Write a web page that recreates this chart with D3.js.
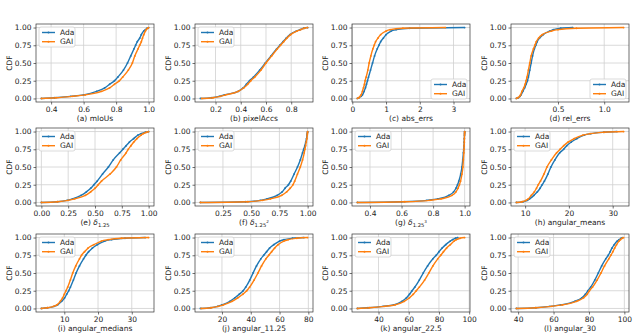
<!DOCTYPE html>
<html>
<head>
<meta charset="utf-8">
<script src="https://cdn.jsdelivr.net/npm/d3@7"></script>
<style>
body { margin: 0; background: #fff; }
text { font-family: "DejaVu Sans", sans-serif; }
</style>
</head>
<body>
<svg id="fig" width="640" height="335"></svg>
<script>
// CDF levels shared by every curve; each series lists the value reached at that level
const levels = [0, 0.01, 0.03, 0.05, 0.1, 0.15, 0.2, 0.25, 0.3, 0.4, 0.5, 0.6, 0.7, 0.75, 0.8, 0.85, 0.9, 0.95, 0.97, 0.99, 1];
const seriesNames = ["Ada", "GAI"];

const mIoUsAda = [0.34, 0.42, 0.52, 0.6, 0.68, 0.73, 0.76, 0.79, 0.81, 0.845, 0.87, 0.89, 0.91, 0.92, 0.93, 0.945, 0.955, 0.97, 0.98, 0.99, 1.0];
const mIoUsGAI = [0.34, 0.43, 0.53, 0.61, 0.71, 0.76, 0.79, 0.82, 0.84, 0.875, 0.9, 0.915, 0.935, 0.945, 0.955, 0.962, 0.97, 0.98, 0.985, 0.995, 1.0];
const pixelAccsAda = [0.08, 0.17, 0.23, 0.27, 0.38, 0.42, 0.445, 0.47, 0.5, 0.55, 0.595, 0.64, 0.685, 0.71, 0.735, 0.76, 0.79, 0.84, 0.87, 0.9, 0.93];
const pixelAccsGAI = [0.09, 0.18, 0.24, 0.28, 0.38, 0.425, 0.455, 0.48, 0.51, 0.56, 0.6, 0.645, 0.69, 0.715, 0.74, 0.765, 0.795, 0.845, 0.875, 0.905, 0.93];
const absErrsAda = [0.15, 0.2, 0.26, 0.3, 0.35, 0.39, 0.42, 0.45, 0.48, 0.54, 0.6, 0.66, 0.74, 0.79, 0.84, 0.92, 1.0, 1.15, 1.3, 1.7, 3.33];
const absErrsGAI = [0.15, 0.19, 0.23, 0.26, 0.3, 0.33, 0.36, 0.38, 0.41, 0.46, 0.5, 0.55, 0.61, 0.65, 0.69, 0.76, 0.84, 1.0, 1.12, 1.5, 2.76];
const relErrsAda = [0.05, 0.07, 0.09, 0.1, 0.12, 0.14, 0.155, 0.17, 0.18, 0.195, 0.21, 0.225, 0.245, 0.26, 0.275, 0.3, 0.34, 0.41, 0.45, 0.53, 0.66];
const relErrsGAI = [0.05, 0.065, 0.085, 0.095, 0.11, 0.13, 0.145, 0.155, 0.165, 0.18, 0.195, 0.21, 0.235, 0.25, 0.265, 0.29, 0.33, 0.43, 0.5, 0.7, 1.21];
const delta1Ada = [0.0, 0.15, 0.24, 0.29, 0.37, 0.42, 0.46, 0.49, 0.52, 0.57, 0.625, 0.67, 0.73, 0.76, 0.79, 0.82, 0.86, 0.9, 0.93, 0.97, 1.0];
const delta1GAI = [0.0, 0.15, 0.25, 0.31, 0.41, 0.46, 0.5, 0.53, 0.56, 0.64, 0.7, 0.74, 0.79, 0.81, 0.835, 0.86, 0.89, 0.93, 0.95, 0.98, 1.0];
const delta2Ada = [0.05, 0.45, 0.58, 0.64, 0.73, 0.775, 0.8, 0.83, 0.85, 0.88, 0.91, 0.935, 0.955, 0.965, 0.975, 0.983, 0.99, 0.995, 0.997, 0.999, 1.0];
const delta2GAI = [0.05, 0.47, 0.6, 0.67, 0.77, 0.815, 0.845, 0.87, 0.885, 0.91, 0.935, 0.955, 0.97, 0.976, 0.982, 0.988, 0.993, 0.997, 0.998, 0.999, 1.0];
const delta3Ada = [0.32, 0.6, 0.76, 0.83, 0.9, 0.93, 0.945, 0.955, 0.963, 0.975, 0.983, 0.988, 0.992, 0.994, 0.996, 0.997, 0.998, 0.999, 0.9995, 0.9999, 1.0];
const delta3GAI = [0.32, 0.62, 0.78, 0.85, 0.92, 0.945, 0.958, 0.967, 0.974, 0.983, 0.989, 0.992, 0.995, 0.996, 0.997, 0.998, 0.9985, 0.9993, 0.9996, 0.9999, 1.0];
const angMeansAda = [8.0, 9.5, 10.5, 11.0, 12.0, 12.8, 13.4, 13.9, 14.4, 15.2, 15.9, 16.8, 17.9, 18.8, 19.5, 20.5, 21.8, 23.5, 25, 28, 31];
const angMeansGAI = [8.0, 9.3, 10.2, 10.7, 11.4, 12.1, 12.6, 13.0, 13.5, 14.3, 15.0, 16.0, 17.2, 18.0, 18.8, 19.8, 21.2, 23.2, 24.8, 28, 32.5];
const angMediansAda = [3.2, 5, 7, 8, 9.2, 10.1, 10.7, 11.3, 11.8, 12.7, 13.5, 14.5, 15.7, 16.4, 17.2, 18.3, 19.8, 22, 24, 28, 34];
const angMediansGAI = [3.2, 5, 6.8, 7.8, 8.8, 9.5, 10.0, 10.5, 11.0, 11.8, 12.5, 13.4, 14.5, 15.1, 16.0, 17.0, 18.8, 21, 23, 27, 35];
const ang1125Ada = [5, 12, 17, 20, 25.5, 29, 32, 34.7, 36.5, 39.3, 41.6, 44, 47, 49, 51, 53, 56, 60, 63, 69, 77];
const ang1125GAI = [5.5, 12.5, 17.5, 21, 27, 31, 34.5, 37.2, 39.2, 42.3, 45, 47.5, 50.5, 52.5, 54.5, 56.5, 59, 63, 66, 72, 79.5];
const ang225Ada = [26, 33, 43, 50, 55.5, 58.5, 60.5, 62.2, 64, 67, 69.6, 72.5, 76, 78.2, 80, 82, 84.5, 87.5, 89, 91, 92.5];
const ang225GAI = [26, 34, 44, 51, 57, 60.5, 63, 65, 67, 70.5, 73.3, 76, 79.2, 81.2, 83, 85, 87.5, 90, 91.5, 94, 97];
const ang30Ada = [39, 50, 58, 64, 72, 76, 78, 79.4, 81, 83.3, 85.3, 87.2, 89.5, 90.9, 92, 93, 94.3, 96, 97, 98.2, 99];
const ang30GAI = [39, 50, 59, 65, 73, 77, 79, 80.3, 82, 84.6, 86.8, 88.8, 91.2, 92.4, 93.5, 94.5, 95.6, 97, 97.8, 98.8, 99.6];

const xTicks = [
  [0.4, 0.6, 0.8, 1.0], [0.2, 0.4, 0.6, 0.8], [0, 1, 2, 3], [0.5, 1.0],
  [0, 0.25, 0.5, 0.75, 1.0], [0.25, 0.5, 0.75, 1.0], [0.4, 0.6, 0.8, 1.0], [10, 20, 30],
  [10, 20, 30], [20, 40, 60, 80], [40, 60, 80, 100], [40, 60, 80, 100]
];
const xFormats = [".1f", ".1f", "d", ".1f", ".2f", ".2f", ".1f", "d", "d", "d", "d", "d"];
const yTicks = [0, 0.25, 0.5, 0.75, 1.0];
// panel labels: [prefix, delta subscript, superscript]
const panelLabels = [
  ["(a) mIoUs"], ["(b) pixelAccs"], ["(c) abs_errs"], ["(d) rel_errs"],
  ["(e) ", "1.25", ""], ["(f) ", "1.25", "2"], ["(g) ", "1.25", "3"], ["(h) angular_means"],
  ["(i) angular_medians"], ["(j) angular_11.25"], ["(k) angular_22.5"], ["(l) angular_30"]
];
const adaSeries = [mIoUsAda, pixelAccsAda, absErrsAda, relErrsAda, delta1Ada, delta2Ada, delta3Ada, angMeansAda, angMediansAda, ang1125Ada, ang225Ada, ang30Ada];
const gaiSeries = [mIoUsGAI, pixelAccsGAI, absErrsGAI, relErrsGAI, delta1GAI, delta2GAI, delta3GAI, angMeansGAI, angMediansGAI, ang1125GAI, ang225GAI, ang30GAI];
const legendLowerRight = [false, false, true, true, false, false, false, false, false, false, false, false];

const colors = ["#1f77b4", "#ff7f0e"];
const colLeft = [36, 195, 352, 511];
const rowTop = [24, 128, 234];
const width = 118, height = 78;
const fontSize = 7.5;

let svg = d3.select("#fig");

for (let p = 0; p < 12; p++) {
  let left = colLeft[p % 4], top = rowTop[Math.floor(p / 4)];
  let g = svg.append("g").attr("transform", "translate(" + left + "," + top + ")");
  let curves = [adaSeries[p], gaiSeries[p]].map(s => s.map((v, i) => [v, levels[i]]));
  let ext = d3.extent(adaSeries[p].concat(gaiSeries[p]));
  let pad = (ext[1] - ext[0]) * 0.05;
  let x = d3.scaleLinear().domain([ext[0] - pad, ext[1] + pad]).range([0, width]);
  let y = d3.scaleLinear().domain([-0.05, 1.05]).range([height, 0]);

  // grid
  g.selectAll(".gx").data(xTicks[p]).enter().append("line")
    .attr("x1", d => x(d)).attr("x2", d => x(d)).attr("y1", 0).attr("y2", height)
    .attr("stroke", "#d0d0d0").attr("stroke-width", 0.8);
  g.selectAll(".gy").data(yTicks).enter().append("line")
    .attr("x1", 0).attr("x2", width).attr("y1", d => y(d)).attr("y2", d => y(d))
    .attr("stroke", "#d0d0d0").attr("stroke-width", 0.8);

  // axes
  let xa = g.append("g").attr("transform", "translate(0," + height + ")")
    .call(d3.axisBottom(x).tickValues(xTicks[p]).tickFormat(d3.format(xFormats[p])).tickSize(2.5).tickPadding(2));
  let ya = g.append("g")
    .call(d3.axisLeft(y).tickValues(yTicks).tickFormat(d3.format(".2f")).tickSize(2.5).tickPadding(2));
  [xa, ya].forEach(a => {
    a.select(".domain").remove();
    a.selectAll("line").attr("stroke", "#333").attr("stroke-width", 0.7);
    a.selectAll("text").attr("font-size", fontSize).attr("fill", "#222")
      .style("font-family", "'DejaVu Sans', sans-serif");
  });

  // curves
  let line = d3.line().x(d => x(d[0])).y(d => y(d[1])).curve(d3.curveMonotoneX);
  curves.forEach((c, k) => {
    g.append("path").attr("d", line(c)).attr("fill", "none")
      .attr("stroke", colors[k]).attr("stroke-width", 1.4);
    g.selectAll(".dot" + k).data(c).enter().append("circle")
      .attr("cx", d => x(d[0])).attr("cy", d => y(d[1])).attr("r", 0.9)
      .attr("fill", colors[k]);
  });

  // frame
  g.append("rect").attr("width", width).attr("height", height)
    .attr("fill", "none").attr("stroke", "#333").attr("stroke-width", 0.7);

  // y label
  g.append("text").attr("transform", "translate(-24," + (height / 2) + ") rotate(-90)")
    .attr("text-anchor", "middle").attr("font-size", fontSize).attr("fill", "#222").text("CDF");

  // x label
  let lab = panelLabels[p];
  let xt = g.append("text").attr("x", width / 2).attr("y", height + 19)
    .attr("text-anchor", "middle").attr("font-size", fontSize).attr("fill", "#222");
  if (lab.length === 1) {
    xt.text(lab[0]);
  } else {
    xt.append("tspan").text(lab[0]);
    xt.append("tspan").attr("font-style", "italic").text("δ");
    xt.append("tspan").attr("font-size", fontSize * 0.7).attr("dy", 2).text(lab[1]);
    if (lab[2]) xt.append("tspan").attr("font-size", fontSize * 0.55).attr("dy", -4).text(lab[2]);
  }

  // legend
  let lw = 36, lh = 20;
  let lx = legendLowerRight[p] ? width - lw - 3 : 3;
  let ly = legendLowerRight[p] ? height - lh - 3 : 3;
  let leg = g.append("g").attr("transform", "translate(" + lx + "," + ly + ")");
  leg.append("rect").attr("width", lw).attr("height", lh).attr("rx", 2)
    .attr("fill", "#fff").attr("fill-opacity", 0.85).attr("stroke", "#ccc").attr("stroke-width", 0.7);
  seriesNames.forEach((name, k) => {
    let yy = 5.5 + k * 9.2;
    leg.append("line").attr("x1", 3).attr("x2", 16).attr("y1", yy).attr("y2", yy)
      .attr("stroke", colors[k]).attr("stroke-width", 1.4);
    leg.append("circle").attr("cx", 9.5).attr("cy", yy).attr("r", 1).attr("fill", colors[k]);
    leg.append("text").attr("x", 21).attr("y", yy + 2.7).attr("font-size", fontSize)
      .attr("fill", "#222").text(name);
  });
}
</script>
</body>
</html>
